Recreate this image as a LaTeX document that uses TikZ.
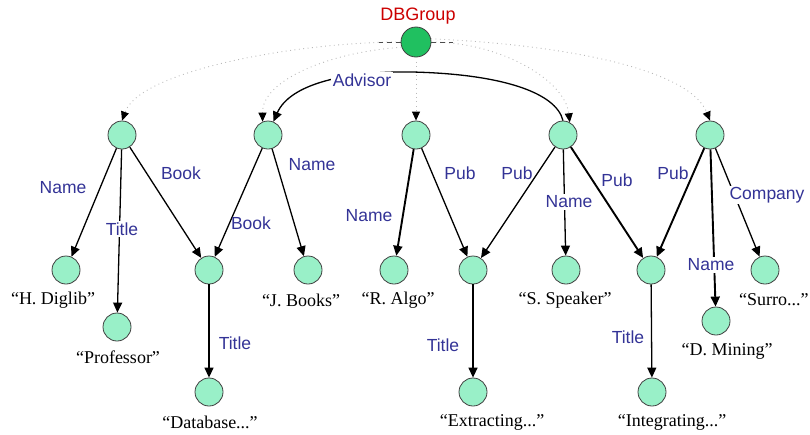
\documentclass[tikz,border=0pt]{standalone}
\usepackage{fontspec}
\setmainfont{Liberation Serif}
\newfontfamily\lblfont{Liberation Sans}
\usetikzlibrary{arrows.meta}
\definecolor{nodefill}{RGB}{153,240,200}
\definecolor{rootfill}{RGB}{32,192,96}
\definecolor{edgeblue}{RGB}{51,51,150}
\definecolor{dbred}{RGB}{204,0,0}
\tikzset{
  obj/.style={circle,draw=black!75,line width=0.8pt,fill=nodefill,minimum size=28pt,inner sep=0pt},
  rootobj/.style={circle,draw=black!75,line width=0.8pt,fill=rootfill,minimum size=30pt,inner sep=0pt},
  val/.style={font=\fontsize{18}{18}\selectfont,inner sep=0pt},
  elbl/.style={font=\lblfont\fontsize{17.5}{17.5}\selectfont,text=edgeblue,inner sep=1.5pt},
  cut/.style={elbl,fill=white},
  edge/.style={line width=1.3pt,-{Triangle[length=10pt,width=9pt]}},
  thick edge/.style={line width=1.9pt,-{Triangle[length=10pt,width=9pt]}},
  dotedge/.style={gray!55,line width=0.9pt,dash pattern=on 0.9pt off 3.5pt,-{Triangle[length=9pt,width=8pt,color=black]}},
  rootdash/.style={black!70,line width=0.9pt,dash pattern=on 5pt off 4pt}
}
\begin{document}
\begin{tikzpicture}[x=1pt,y=-1pt]
\useasboundingbox (0,0) rectangle (810,434);
% nodes
\node[rootobj] (root) at (416,42) {};
\node[font=\lblfont\fontsize{18}{18}\selectfont,text=dbred,inner sep=0pt] (dbg) at (418,16) {DBGroup};
\node[obj] (n1) at (122,135) {};
\node[obj] (n2) at (268,135) {};
\node[obj] (n3) at (416,135) {};
\node[obj] (n4) at (563,135) {};
\node[obj] (n5) at (710,135) {};
\node[obj] (hd) at (66,270) {};
\node[obj] (prof) at (117,327) {};
\node[obj] (book) at (209,270) {};
\node[obj] (jb) at (308,270) {};
\node[obj] (ra) at (394,270) {};
\node[obj] (pubA) at (473,270) {};
\node[obj] (ss) at (566,270) {};
\node[obj] (pubB) at (651,270) {};
\node[obj] (surro) at (765,270) {};
\node[obj] (dm) at (716,321) {};
\node[obj] (db) at (209,392) {};
\node[obj] (ex) at (473,392) {};
\node[obj] (ig) at (652,392) {};
% value texts
\node[val] (thd) at (53,300) {“H. Diglib”};
\node[val] (tprof) at (118,357) {“Professor”};
\node[val] (tdb) at (210,422) {“Database...”};
\node[val] (tjb) at (301,300) {“J. Books”};
\node[val] (tra) at (398,300) {“R. Algo”};
\node[val] (tss) at (565,300) {“S. Speaker”};
\node[val] (tex) at (492,422) {“Extracting...”};
\node[val] (tig) at (672,422) {“Integrating...”};
\node[val] (tdm) at (727,351) {“D. Mining”};
\node[val,anchor=west] (tsurro) at (739,300) {“Surro...”};
% root dotted connectors
\draw[dotedge] (root.west) .. controls (300,42) and (140,70) .. (n1.north);
\draw[dotedge] (root.200) .. controls (330,52) and (262,80) .. (n2.112);
\draw[dotedge] (root.south) -- (n3.north);
\draw[dotedge] (root.east) .. controls (500,42) and (565,80) .. (n4.62);
\draw[dotedge] (root.12) .. controls (570,45) and (690,70) .. (n5.north);
\draw[rootdash] (root.west) -- ++(-22,0);
\draw[rootdash] (root.east) -- ++(22,0);
% Advisor connector
\draw[edge] (n4.north) .. controls (556,92) and (500,74) .. (412,72)
  .. controls (345,71) and (290,84) .. (n2.68);
\node[cut] (adv) at (362,80) {Advisor};
% edges
\draw[edge] (n1) -- (hd);
\draw[edge] (n1) -- (prof);
\draw[edge] (n1) -- (book);
\draw[edge] (n2) -- (book);
\draw[edge] (n2) -- (jb);
\draw[thick edge] (n3) -- (ra);
\draw[edge] (n3) -- (pubA);
\draw[edge] (n4) -- (pubA);
\draw[edge] (n4) -- (ss);
\draw[thick edge] (n4) -- (pubB);
\draw[thick edge] (n5) -- (pubB);
\draw[thick edge] (n5) -- (dm);
\draw[edge] (n5) -- (surro);
\draw[edge] (book) -- (db);
\draw[edge] (pubA) -- (ex);
\draw[edge] (pubB) -- (ig);
% edge labels
\node[elbl] (l1) at (63,188) {Name};
\node[cut] (l2) at (122,229) {Title};
\node[elbl] (l3) at (181,173) {Book};
\node[elbl] (l4) at (251,223) {Book};
\node[elbl] (l5) at (312,165) {Name};
\node[elbl] (l6) at (369,216) {Name};
\node[elbl] (l7) at (460,173) {Pub};
\node[elbl] (l8) at (517,173) {Pub};
\node[cut] (l9) at (569,202) {Name};
\node[elbl] (l10) at (617,180) {Pub};
\node[elbl] (l11) at (673,173) {Pub};
\node[cut] (l12) at (767,195) {Company};
\node[cut] (l13) at (711,265) {Name};
\node[elbl] (l14) at (235,343) {Title};
\node[elbl] (l15) at (443,345) {Title};
\node[elbl] (l16) at (628,337) {Title};
\end{tikzpicture}
\end{document}
